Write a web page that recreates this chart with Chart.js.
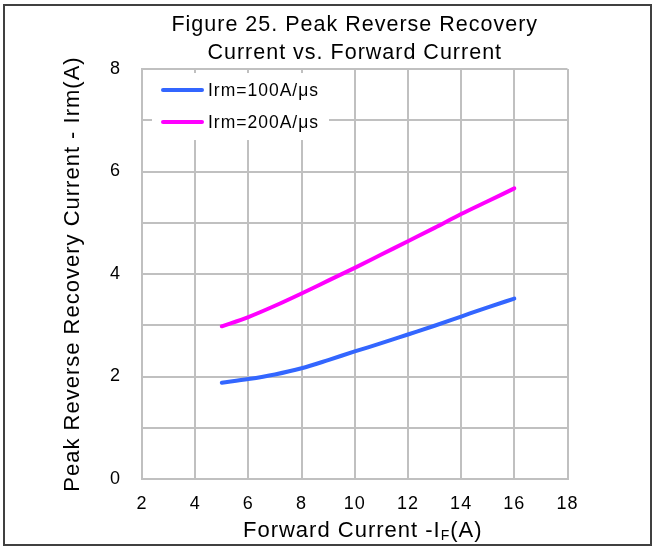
<!DOCTYPE html>
<html>
<head>
<meta charset="utf-8">
<title>Peak Reverse Recovery Current vs. Forward Current</title>
<script src="https://cdn.jsdelivr.net/npm/chart.js@4.4.1/dist/chart.umd.min.js"></script>
<style>
  html, body { margin: 0; padding: 0; background: #fff; }
  canvas { display: block; }
</style>
</head>
<body>
<canvas id="myChart" width="655" height="549"></canvas>
<script>
// Forward current IF (A) against peak reverse recovery current Irm (A)
const forwardCurrent = [5, 6, 7, 8, 9, 10, 11, 12, 13, 14, 15, 16];
const irm100 = [1.88, 1.95, 2.04, 2.16, 2.32, 2.49, 2.65, 2.82, 2.99, 3.17, 3.35, 3.52];
const irm200 = [2.98, 3.16, 3.38, 3.62, 3.87, 4.12, 4.38, 4.64, 4.90, 5.17, 5.42, 5.67];
const seriesLabels = ['Irm=100A/μs', 'Irm=200A/μs'];
const xTicks = [2, 4, 6, 8, 10, 12, 14, 16, 18];
const yTicks = [0, 2, 4, 6, 8];

const FONT = "'Liberation Sans', Arial, sans-serif";
const GRID = '#C0C0C0';

Chart.defaults.font.family = FONT;
Chart.defaults.color = '#000';

function toPoints(values) {
    return values.map((v, i) => ({ x: forwardCurrent[i], y: v }));
}

// Excel-style text is slightly spaced out
const textSpacing = {
    id: 'textSpacing',
    beforeLayout(chart) { chart.ctx.letterSpacing = '1px'; },
    beforeDraw(chart) { chart.ctx.letterSpacing = '1px'; }
};

// Outer frame, boxed legend and the x axis title (it needs a subscript)
const decorations = {
    id: 'decorations',
    afterDraw(chart) {
        const ctx = chart.ctx;
        const area = chart.chartArea;
        ctx.save();
        ctx.letterSpacing = '1px';

        ctx.strokeStyle = '#404040';
        ctx.lineWidth = 2;
        ctx.strokeRect(4, 5, 647, 540);

        ctx.fillStyle = '#fff';
        ctx.fillRect(area.left + 10, area.top + 4, 177, 67);
        chart.data.datasets.forEach((ds, i) => {
            const y = area.top + 21 + i * 32;
            ctx.strokeStyle = ds.borderColor;
            ctx.lineWidth = 4;
            ctx.lineCap = 'round';
            ctx.beginPath();
            ctx.moveTo(area.left + 21, y);
            ctx.lineTo(area.left + 60, y);
            ctx.stroke();
            ctx.fillStyle = '#000';
            ctx.font = '17.5px ' + FONT;
            ctx.textAlign = 'left';
            ctx.textBaseline = 'middle';
            ctx.fillText(ds.label, area.left + 66, y + 1);
        });

        const xs = chart.scales.x;
        const main = 'Forward Current -I', sub = 'F', tail = '(A)';
        ctx.font = '22px ' + FONT;
        const w1 = ctx.measureText(main).width;
        const w3 = ctx.measureText(tail).width;
        ctx.font = '14px ' + FONT;
        const w2 = ctx.measureText(sub).width;
        let x = (xs.left + xs.right) / 2 + 8 - (w1 + w2 + w3) / 2;
        const base = xs.top + 57.5;
        ctx.textAlign = 'left';
        ctx.textBaseline = 'alphabetic';
        ctx.fillStyle = '#000';
        ctx.font = '22px ' + FONT;
        ctx.fillText(main, x, base);
        x += w1;
        ctx.font = '14px ' + FONT;
        ctx.fillText(sub, x, base + 3);
        x += w2;
        ctx.font = '22px ' + FONT;
        ctx.fillText(tail, x, base);
        ctx.restore();
    }
};

const ctx = document.getElementById('myChart').getContext('2d');
const myChart = new Chart(ctx, {
    type: 'line',
    data: {
        datasets: [{
            label: seriesLabels[0],
            data: toPoints(irm100),
            borderColor: '#3366FF',
            borderWidth: 4,
            borderCapStyle: 'round',
            pointRadius: 0,
            tension: 0.4,
            cubicInterpolationMode: 'monotone'
        }, {
            label: seriesLabels[1],
            data: toPoints(irm200),
            borderColor: '#FF00FF',
            borderWidth: 4,
            borderCapStyle: 'round',
            pointRadius: 0,
            tension: 0.4,
            cubicInterpolationMode: 'monotone'
        }]
    },
    options: {
        responsive: false,
        devicePixelRatio: 1,
        animation: false,
        events: [],
        layout: {
            padding: { left: 48, right: 87.5, top: 0, bottom: 0 }
        },
        scales: {
            x: {
                type: 'linear',
                min: xTicks[0],
                max: xTicks[xTicks.length - 1],
                ticks: {
                    stepSize: 2,
                    padding: 14,
                    color: '#000',
                    font: { size: 18 }
                },
                grid: { color: GRID, lineWidth: 2, drawTicks: false },
                border: { color: GRID, width: 2 },
                afterFit(scale) { scale.height = 70; }
            },
            y: {
                min: yTicks[0],
                max: yTicks[yTicks.length - 1],
                ticks: {
                    stepSize: 1,
                    padding: 21,
                    color: '#000',
                    font: { size: 18 },
                    callback: value => yTicks.includes(value) ? value : ''
                },
                grid: { color: GRID, lineWidth: 2, drawTicks: false },
                border: { color: GRID, width: 2 },
                title: {
                    display: true,
                    text: 'Peak Reverse Recovery Current - Irm(A)',
                    color: '#000',
                    font: { size: 22 },
                    padding: { top: 12, bottom: 0 }
                },
                afterFit(scale) { scale.width = 94; }
            }
        },
        plugins: {
            legend: { display: false },
            tooltip: { enabled: false },
            title: {
                display: true,
                fullSize: false,
                text: ['Figure 25. Peak Reverse Recovery', 'Current vs. Forward Current'],
                color: '#000',
                font: { size: 21.5, weight: 'normal', lineHeight: 1.326 },
                padding: { top: 10.75, bottom: 1.25 }
            }
        }
    },
    plugins: [textSpacing, decorations]
});
</script>
</body>
</html>
